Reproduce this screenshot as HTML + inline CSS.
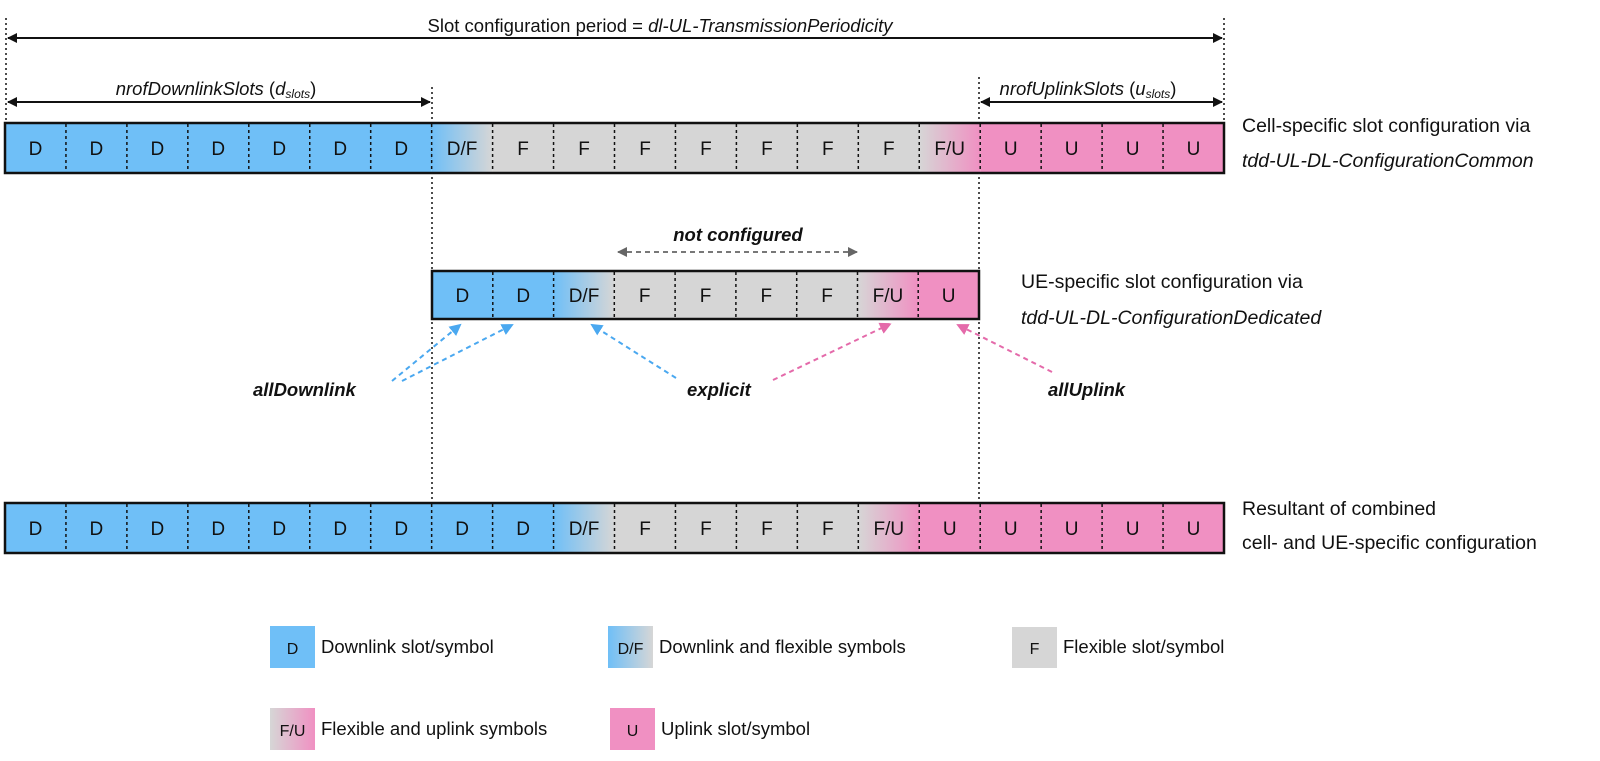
<!DOCTYPE html>
<html><head><meta charset="utf-8"><style>
html,body{margin:0;padding:0;background:#fff;}
svg{display:block;}
.s{font-family:"Liberation Sans",sans-serif;font-size:19px;fill:#111;text-anchor:middle;}
.t{font-family:"Liberation Sans",sans-serif;font-size:19.5px;fill:#111;}
.i{font-style:italic;}
.b{font-weight:bold;font-style:italic;}
</style></head><body>
<svg width="1600" height="761" viewBox="0 0 1600 761" xmlns="http://www.w3.org/2000/svg">
<defs>
<linearGradient id="df" x1="0" y1="0" x2="1" y2="0"><stop offset="0" stop-color="#6fbff7"/><stop offset="1" stop-color="#d6d6d6"/></linearGradient>
<linearGradient id="fu" x1="0" y1="0" x2="1" y2="0"><stop offset="0" stop-color="#d6d6d6"/><stop offset="1" stop-color="#f090c2"/></linearGradient>
<marker id="ak" markerWidth="10" markerHeight="10" refX="9" refY="5" orient="auto-start-reverse" markerUnits="userSpaceOnUse"><path d="M0,0 L10,5 L0,10 z" fill="#111"/></marker>
<marker id="ag" markerWidth="10" markerHeight="10" refX="9" refY="5" orient="auto-start-reverse" markerUnits="userSpaceOnUse"><path d="M0,0 L10,5 L0,10 z" fill="#666"/></marker>
<marker id="ab" markerWidth="12" markerHeight="12" refX="10" refY="6" orient="auto" markerUnits="userSpaceOnUse"><path d="M0,0 L12,6 L0,12 z" fill="#4aa8f0"/></marker>
<marker id="ap" markerWidth="12" markerHeight="12" refX="10" refY="6" orient="auto" markerUnits="userSpaceOnUse"><path d="M0,0 L12,6 L0,12 z" fill="#e46aaa"/></marker>
</defs>

<!-- vertical dotted guides -->
<g stroke="#111" stroke-width="1.5" stroke-dasharray="2,3">
<line x1="6" y1="18" x2="6" y2="123"/>
<line x1="1224" y1="18" x2="1224" y2="123"/>
<line x1="432" y1="87" x2="432" y2="503"/>
<line x1="979" y1="77" x2="979" y2="503"/>
</g>

<!-- top arrows -->
<line x1="8" y1="38" x2="1222" y2="38" stroke="#111" stroke-width="2" marker-start="url(#ak)" marker-end="url(#ak)"/>
<text class="t" x="660" y="32" text-anchor="middle" style="font-size:18.5px">Slot configuration period = <tspan class="i">dl-UL-TransmissionPeriodicity</tspan></text>
<line x1="8" y1="102" x2="430" y2="102" stroke="#111" stroke-width="2" marker-start="url(#ak)" marker-end="url(#ak)"/>
<text class="t" x="216" y="95" text-anchor="middle" style="font-size:18.5px"><tspan class="i">nrofDownlinkSlots</tspan> (<tspan class="i">d</tspan><tspan class="i" font-size="12" dy="3">slots</tspan><tspan dy="-3">)</tspan></text>
<line x1="981" y1="102" x2="1222" y2="102" stroke="#111" stroke-width="2" marker-start="url(#ak)" marker-end="url(#ak)"/>
<text class="t" x="1088" y="95" text-anchor="middle" style="font-size:18.5px"><tspan class="i">nrofUplinkSlots</tspan> (<tspan class="i">u</tspan><tspan class="i" font-size="12" dy="3">slots</tspan><tspan dy="-3">)</tspan></text>

<!-- Row 1 -->
<g>
<rect x="5" y="123" width="426.65" height="50" fill="#6fbff7"/>
<rect x="431.65" y="123" width="60.95" height="50" fill="url(#df)"/>
<rect x="492.6" y="123" width="426.65" height="50" fill="#d6d6d6"/>
<rect x="919.25" y="123" width="60.95" height="50" fill="url(#fu)"/>
<rect x="980.2" y="123" width="243.8" height="50" fill="#f090c2"/>
<g stroke="#111" stroke-width="1.5" stroke-dasharray="3,3">
<line x1="65.95" y1="124" x2="65.95" y2="172"/><line x1="126.9" y1="124" x2="126.9" y2="172"/><line x1="187.85" y1="124" x2="187.85" y2="172"/><line x1="248.8" y1="124" x2="248.8" y2="172"/><line x1="309.75" y1="124" x2="309.75" y2="172"/><line x1="370.7" y1="124" x2="370.7" y2="172"/><line x1="431.65" y1="124" x2="431.65" y2="172"/><line x1="492.6" y1="124" x2="492.6" y2="172"/><line x1="553.55" y1="124" x2="553.55" y2="172"/><line x1="614.5" y1="124" x2="614.5" y2="172"/><line x1="675.45" y1="124" x2="675.45" y2="172"/><line x1="736.4" y1="124" x2="736.4" y2="172"/><line x1="797.35" y1="124" x2="797.35" y2="172"/><line x1="858.3" y1="124" x2="858.3" y2="172"/><line x1="919.25" y1="124" x2="919.25" y2="172"/><line x1="980.2" y1="124" x2="980.2" y2="172"/><line x1="1041.15" y1="124" x2="1041.15" y2="172"/><line x1="1102.1" y1="124" x2="1102.1" y2="172"/><line x1="1163.05" y1="124" x2="1163.05" y2="172"/>
</g>
<rect x="5" y="123" width="1219" height="50" fill="none" stroke="#111" stroke-width="2.5"/>
<g class="s">
<text x="35.5" y="155">D</text><text x="96.4" y="155">D</text><text x="157.4" y="155">D</text><text x="218.3" y="155">D</text><text x="279.3" y="155">D</text><text x="340.2" y="155">D</text><text x="401.2" y="155">D</text><text x="462.1" y="155">D/F</text><text x="523.1" y="155">F</text><text x="584" y="155">F</text><text x="645" y="155">F</text><text x="705.9" y="155">F</text><text x="766.9" y="155">F</text><text x="827.8" y="155">F</text><text x="888.8" y="155">F</text><text x="949.7" y="155">F/U</text><text x="1010.7" y="155">U</text><text x="1071.6" y="155">U</text><text x="1132.6" y="155">U</text><text x="1193.5" y="155">U</text>
</g>
</g>
<text class="t" x="1242" y="132">Cell-specific slot configuration via</text>
<text class="t i" x="1242" y="167">tdd-UL-DL-ConfigurationCommon</text>

<!-- not configured -->
<line x1="618" y1="252" x2="857" y2="252" stroke="#666" stroke-width="1.8" stroke-dasharray="5,4" marker-start="url(#ag)" marker-end="url(#ag)"/>
<text class="t b" x="738" y="241" text-anchor="middle" style="font-size:18.5px">not configured</text>

<!-- Row 2 -->
<g>
<rect x="432" y="271" width="121.6" height="48" fill="#6fbff7"/>
<rect x="553.6" y="271" width="60.7" height="48" fill="url(#df)"/>
<rect x="614.3" y="271" width="243.2" height="48" fill="#d6d6d6"/>
<rect x="857.5" y="271" width="60.7" height="48" fill="url(#fu)"/>
<rect x="918.2" y="271" width="60.8" height="48" fill="#f090c2"/>
<g stroke="#111" stroke-width="1.5" stroke-dasharray="3,3">
<line x1="492.8" y1="272" x2="492.8" y2="318"/><line x1="553.6" y1="272" x2="553.6" y2="318"/><line x1="614.3" y1="272" x2="614.3" y2="318"/><line x1="675.1" y1="272" x2="675.1" y2="318"/><line x1="735.9" y1="272" x2="735.9" y2="318"/><line x1="796.7" y1="272" x2="796.7" y2="318"/><line x1="857.5" y1="272" x2="857.5" y2="318"/><line x1="918.2" y1="272" x2="918.2" y2="318"/>
</g>
<rect x="432" y="271" width="547" height="48" fill="none" stroke="#111" stroke-width="2.5"/>
<g class="s">
<text x="462.4" y="302">D</text><text x="523.2" y="302">D</text><text x="584" y="302">D/F</text><text x="644.7" y="302">F</text><text x="705.5" y="302">F</text><text x="766.3" y="302">F</text><text x="827.1" y="302">F</text><text x="887.9" y="302">F/U</text><text x="948.6" y="302">U</text>
</g>
</g>
<text class="t" x="1021" y="288">UE-specific slot configuration via</text>
<text class="t i" x="1021" y="324">tdd-UL-DL-ConfigurationDedicated</text>

<!-- connector arrows -->
<g stroke-width="2" stroke-dasharray="5,4" fill="none">
<line x1="392" y1="381" x2="460" y2="325" stroke="#4aa8f0" marker-end="url(#ab)"/>
<line x1="402" y1="381" x2="512" y2="325" stroke="#4aa8f0" marker-end="url(#ab)"/>
<line x1="676" y1="378" x2="592" y2="325" stroke="#4aa8f0" marker-end="url(#ab)"/>
<line x1="773" y1="380" x2="890" y2="324" stroke="#e46aaa" marker-end="url(#ap)"/>
<line x1="1052" y1="372" x2="958" y2="325" stroke="#e46aaa" marker-end="url(#ap)"/>
</g>
<text class="t b" x="253" y="396" style="font-size:18.5px">allDownlink</text>
<text class="t b" x="687" y="396" style="font-size:18.5px">explicit</text>
<text class="t b" x="1048" y="396" style="font-size:18.5px">allUplink</text>

<!-- Row 3 -->
<g>
<rect x="5" y="503" width="548.55" height="50" fill="#6fbff7"/>
<rect x="553.55" y="503" width="60.95" height="50" fill="url(#df)"/>
<rect x="614.5" y="503" width="243.8" height="50" fill="#d6d6d6"/>
<rect x="858.3" y="503" width="60.95" height="50" fill="url(#fu)"/>
<rect x="919.25" y="503" width="304.75" height="50" fill="#f090c2"/>
<g stroke="#111" stroke-width="1.5" stroke-dasharray="3,3">
<line x1="65.95" y1="504" x2="65.95" y2="552"/><line x1="126.9" y1="504" x2="126.9" y2="552"/><line x1="187.85" y1="504" x2="187.85" y2="552"/><line x1="248.8" y1="504" x2="248.8" y2="552"/><line x1="309.75" y1="504" x2="309.75" y2="552"/><line x1="370.7" y1="504" x2="370.7" y2="552"/><line x1="431.65" y1="504" x2="431.65" y2="552"/><line x1="492.6" y1="504" x2="492.6" y2="552"/><line x1="553.55" y1="504" x2="553.55" y2="552"/><line x1="614.5" y1="504" x2="614.5" y2="552"/><line x1="675.45" y1="504" x2="675.45" y2="552"/><line x1="736.4" y1="504" x2="736.4" y2="552"/><line x1="797.35" y1="504" x2="797.35" y2="552"/><line x1="858.3" y1="504" x2="858.3" y2="552"/><line x1="919.25" y1="504" x2="919.25" y2="552"/><line x1="980.2" y1="504" x2="980.2" y2="552"/><line x1="1041.15" y1="504" x2="1041.15" y2="552"/><line x1="1102.1" y1="504" x2="1102.1" y2="552"/><line x1="1163.05" y1="504" x2="1163.05" y2="552"/>
</g>
<rect x="5" y="503" width="1219" height="50" fill="none" stroke="#111" stroke-width="2.5"/>
<g class="s">
<text x="35.5" y="535">D</text><text x="96.4" y="535">D</text><text x="157.4" y="535">D</text><text x="218.3" y="535">D</text><text x="279.3" y="535">D</text><text x="340.2" y="535">D</text><text x="401.2" y="535">D</text><text x="462.1" y="535">D</text><text x="523.1" y="535">D</text><text x="584" y="535">D/F</text><text x="645" y="535">F</text><text x="705.9" y="535">F</text><text x="766.9" y="535">F</text><text x="827.8" y="535">F</text><text x="888.8" y="535">F/U</text><text x="949.7" y="535">U</text><text x="1010.7" y="535">U</text><text x="1071.6" y="535">U</text><text x="1132.6" y="535">U</text><text x="1193.5" y="535">U</text>
</g>
</g>
<text class="t" x="1242" y="515">Resultant of combined</text>
<text class="t" x="1242" y="549">cell- and UE-specific configuration</text>

<!-- Legend -->
<rect x="270" y="626" width="45" height="42" fill="#6fbff7"/>
<text class="s" x="292.5" y="654" style="font-size:16px">D</text>
<text class="t" x="321" y="653" style="font-size:18.5px">Downlink slot/symbol</text>
<rect x="608" y="626" width="45" height="42" fill="url(#df)"/>
<text class="s" x="630.5" y="654" style="font-size:16px">D/F</text>
<text class="t" x="659" y="653" style="font-size:18.5px">Downlink and flexible symbols</text>
<rect x="1012" y="627" width="45" height="41" fill="#d6d6d6"/>
<text class="s" x="1034.5" y="654" style="font-size:16px">F</text>
<text class="t" x="1063" y="653" style="font-size:18.5px">Flexible slot/symbol</text>
<rect x="270" y="708" width="45" height="42" fill="url(#fu)"/>
<text class="s" x="292.5" y="736" style="font-size:16px">F/U</text>
<text class="t" x="321" y="735" style="font-size:18.5px">Flexible and uplink symbols</text>
<rect x="610" y="708" width="45" height="42" fill="#f090c2"/>
<text class="s" x="632.5" y="736" style="font-size:16px">U</text>
<text class="t" x="661" y="735" style="font-size:18.5px">Uplink slot/symbol</text>
</svg>
</body></html>
